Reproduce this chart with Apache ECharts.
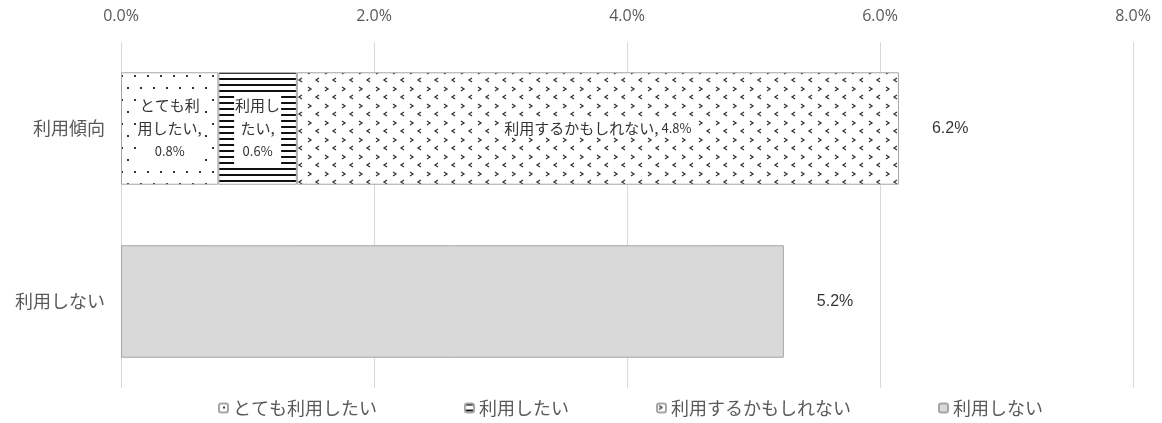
<!DOCTYPE html>
<html>
<head>
<meta charset="utf-8">
<script src="https://cdn.jsdelivr.net/npm/echarts@6/dist/echarts.min.js"></script>
<style>
  html, body { margin: 0; padding: 0; background: #fff; }
  #chart { width: 1162px; height: 423px; }
</style>
</head>
<body>
<div id="chart"></div>
<script>
// データ
const categories = ["利用傾向", "利用しない"]
const seriesNames = ["とても利用したい", "利用したい", "利用するかもしれない", "利用しない"]
const veryWant = [0.77, "-"]
const want = [0.62, "-"]
const maybe = [4.76, "-"]
const notUse = ["-", 5.24]
const totals = [6.15, 5.24]
const xTicks = [0, 2, 4, 6, 8]

const FONT = '"Noto Sans CJK JP", "Noto Sans", sans-serif'

// 模様（パターン）を作る
function makePattern(w, h, draw) {
  const c = document.createElement("canvas")
  c.width = w
  c.height = h
  const ctx = c.getContext("2d")
  ctx.fillStyle = "#fff"
  ctx.fillRect(0, 0, w, h)
  draw(ctx)
  return { image: c, repeat: "repeat" }
}

// 点
const dotPattern = makePattern(26, 24, (ctx) => {
  ctx.fillStyle = "#333"
  ctx.fillRect(4, 3, 2, 2)
  ctx.fillRect(17, 3, 2, 2)
  ctx.fillRect(10, 15, 2, 2)
  ctx.fillRect(23, 15, 2, 2)
})

// 横線
const linePattern = makePattern(8, 6, (ctx) => {
  ctx.fillStyle = "#111"
  ctx.fillRect(0, 0, 8, 2)
})

// ジグザグ
const zigPattern = makePattern(17, 17, (ctx) => {
  ctx.strokeStyle = "#333"
  ctx.lineWidth = 1.3
  ctx.beginPath()
  // ">"
  ctx.moveTo(2, 2); ctx.lineTo(5, 4); ctx.lineTo(2, 6)
  // "<"
  ctx.moveTo(13, 10); ctx.lineTo(10, 12); ctx.lineTo(13, 14)
  ctx.stroke()
})

const borderColor = "#a6a6a6"
const labelColor = "#333"

const chart = echarts.init(document.getElementById("chart"))

const option = {
  animation: false,
  textStyle: { fontFamily: FONT },
  grid: { left: 121, right: 29, top: 42, bottom: 35 },
  legend: {
    data: seriesNames,
    bottom: 1,
    left: 213,
    itemWidth: 9,
    itemHeight: 9,
    itemGap: 87,
    textStyle: { fontSize: 18, color: "#595959", fontFamily: FONT }
  },
  xAxis: {
    type: "value",
    position: "top",
    min: 0,
    max: 8,
    interval: 2,
    axisLine: { show: false },
    axisTick: { show: false },
    splitLine: { lineStyle: { color: "#d9d9d9" } },
    axisLabel: {
      margin: 18,
      fontSize: 16,
      color: "#595959",
      fontFamily: '"Open Sans", sans-serif',
      formatter: (v) => (xTicks.includes(v) ? v.toFixed(1) + "%" : "")
    }
  },
  yAxis: {
    type: "category",
    data: categories,
    inverse: true,
    axisLine: { show: false },
    axisTick: { show: false },
    axisLabel: { fontSize: 18, color: "#595959", margin: 16 }
  },
  series: [
    {
      name: seriesNames[0],
      type: "bar",
      stack: "a",
      barWidth: "65%",
      data: veryWant,
      itemStyle: { color: dotPattern, borderColor: borderColor, borderWidth: 1 },
      label: {
        show: true,
        position: "inside",
        backgroundColor: "#fff",
        padding: [1, 1],
        formatter: "{a|とても利}\n{a|用したい,}\n{b|0.8%}",
        rich: {
          a: { fontSize: 15, color: labelColor, lineHeight: 23, fontFamily: FONT },
          b: { fontSize: 13, color: labelColor, lineHeight: 23, fontFamily: FONT }
        }
      }
    },
    {
      name: seriesNames[1],
      type: "bar",
      stack: "a",
      data: want,
      itemStyle: { color: linePattern, borderColor: borderColor, borderWidth: 1 },
      label: {
        show: true,
        position: "inside",
        backgroundColor: "#fff",
        padding: [1, 1],
        formatter: "{a|利用し}\n{a|たい,}\n{b|0.6%}",
        rich: {
          a: { fontSize: 15, color: labelColor, lineHeight: 23, fontFamily: FONT },
          b: { fontSize: 13, color: labelColor, lineHeight: 23, fontFamily: FONT }
        }
      }
    },
    {
      name: seriesNames[2],
      type: "bar",
      stack: "a",
      data: maybe,
      itemStyle: { color: zigPattern, borderColor: borderColor, borderWidth: 1 },
      label: {
        show: true,
        position: "inside",
        backgroundColor: "#fff",
        padding: [1, 2],
        formatter: "{a|利用するかもしれない,}{b| 4.8%}",
        rich: {
          a: { fontSize: 15, color: labelColor, fontFamily: FONT },
          b: { fontSize: 13, color: labelColor, fontFamily: FONT }
        }
      }
    },
    {
      name: seriesNames[3],
      type: "bar",
      stack: "a",
      data: notUse,
      itemStyle: { color: "#d9d9d9", borderColor: borderColor, borderWidth: 1 }
    },
    {
      name: "合計",
      type: "scatter",
      symbolSize: 0,
      data: totals.map((v, i) => [v, i]),
      label: {
        show: true,
        position: "right",
        distance: 33,
        fontSize: 16,
        color: "#000",
        fontFamily: '"Liberation Sans", sans-serif',
        formatter: (p) => p.value[0].toFixed(1) + "%"
      }
    }
  ]
}

chart.setOption(option)
</script>
</body>
</html>
